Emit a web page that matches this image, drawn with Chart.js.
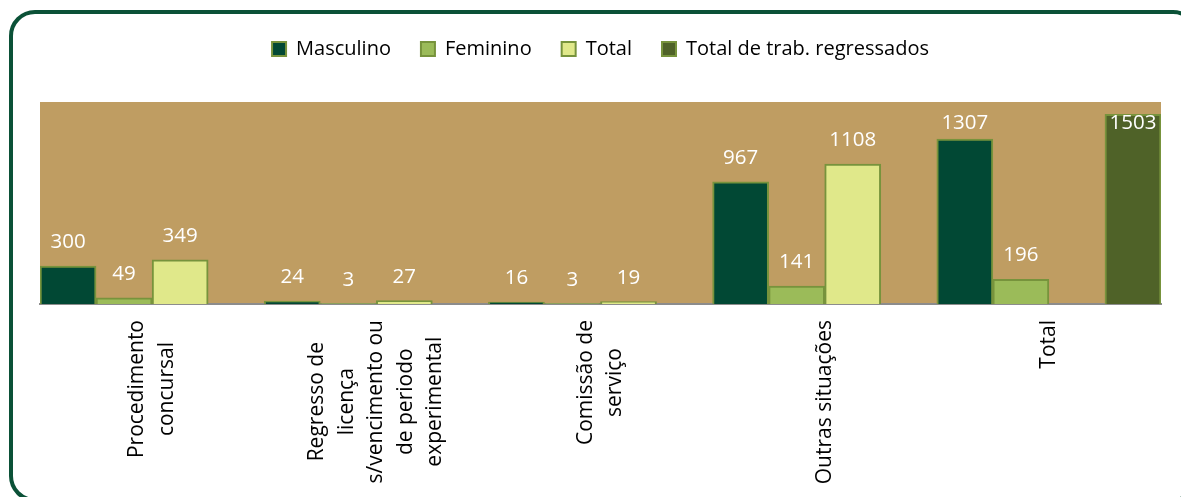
<!DOCTYPE html>
<html>
<head>
<meta charset="utf-8">
<script src="https://cdn.jsdelivr.net/npm/chart.js@4"></script>
<style>
  html, body { margin: 0; padding: 0; background: #fff; overflow: hidden; }
  #wrap { position: relative; width: 1181px; height: 497px; overflow: hidden; }
  #frame {
    position: absolute; left: 9px; top: 10px; width: 1190px; height: 492px;
    border: 4px solid #0b5137; border-radius: 26px; box-sizing: border-box;
  }
  #chart { position: absolute; left: 0; top: 0; }
</style>
</head>
<body>
<div id="wrap">
  <div id="frame"></div>
  <canvas id="chart" width="1181" height="497"></canvas>
</div>
<script>
  const categorias = [
    ["Procedimento", "concursal"],
    ["Regresso de", "licença", "s/vencimento ou", "de periodo", "experimental"],
    ["Comissão de", "serviço"],
    ["Outras situações"],
    ["Total"],
  ];
  const masculino = [300, 24, 16, 967, 1307];
  const feminino = [49, 3, 3, 141, 196];
  const total = [349, 27, 19, 1108, null];
  const totalRegressados = [null, null, null, null, 1503];

  Chart.defaults.font.family = "'Open Sans', sans-serif";

  // fundo da área de plotagem
  const fundo = {
    id: "fundo",
    beforeDraw(chart) {
      const a = chart.chartArea;
      const ctx = chart.ctx;
      ctx.save();
      ctx.fillStyle = "#bf9d62";
      ctx.fillRect(a.left, a.top, a.right - a.left, a.bottom - a.top);
      ctx.restore();
    },
  };

  // espaço extra entre a legenda e o gráfico
  const espacoLegenda = {
    id: "espacoLegenda",
    beforeInit(chart) {
      const fit = chart.legend.fit;
      chart.legend.fit = function () {
        fit.bind(chart.legend)();
        this.height += 33;
      };
    },
  };

  // valores por cima das barras
  const valores = {
    id: "valores",
    afterDatasetsDraw(chart) {
      const ctx = chart.ctx;
      const a = chart.chartArea;
      ctx.save();
      ctx.font = "20.5px 'Open Sans'";
      ctx.fillStyle = "#ffffff";
      ctx.textAlign = "center";
      ctx.textBaseline = "alphabetic";
      chart.data.datasets.forEach((ds, i) => {
        chart.getDatasetMeta(i).data.forEach((bar, j) => {
          const v = ds.data[j];
          if (v === null) return;
          const y = Math.max(bar.y - 18, a.top + 27);
          ctx.fillText(String(v), bar.x, y);
        });
      });
      ctx.restore();
    },
  };

  // rótulos das categorias, na vertical e centrados
  const rotulos = {
    id: "rotulos",
    afterDraw(chart) {
      const ctx = chart.ctx;
      const x = chart.scales.x;
      const topo = chart.chartArea.bottom + 16;
      const passo = 29.5;
      ctx.save();
      ctx.font = "21px 'Open Sans'";
      ctx.fillStyle = "#000000";
      ctx.textAlign = "center";
      ctx.textBaseline = "middle";
      categorias.forEach((linhas, i) => {
        const cx = x.getPixelForValue(i);
        const maxW = Math.max(...linhas.map((l) => ctx.measureText(l).width));
        const cy = topo + maxW / 2;
        linhas.forEach((l, k) => {
          const lx = cx + (k - (linhas.length - 1) / 2) * passo;
          ctx.save();
          ctx.translate(lx, cy);
          ctx.rotate(-Math.PI / 2);
          ctx.fillText(l, 0, 0);
          ctx.restore();
        });
      });
      ctx.restore();
    },
  };

  const ctx = document.getElementById("chart");

  new Chart(ctx, {
    type: "bar",
    data: {
      labels: categorias,
      datasets: [
        {
          label: "Masculino",
          data: masculino,
          backgroundColor: "#014834",
          borderColor: "#77933c",
          borderWidth: 2,
        },
        {
          label: "Feminino",
          data: feminino,
          backgroundColor: "#9bbb59",
          borderColor: "#77933c",
          borderWidth: 2,
        },
        {
          label: "Total",
          data: total,
          backgroundColor: "#e0e88a",
          borderColor: "#77933c",
          borderWidth: 2,
        },
        {
          label: "Total de trab. regressados",
          data: totalRegressados,
          backgroundColor: "#4f6228",
          borderColor: "#77933c",
          borderWidth: 2,
        },
      ],
    },
    options: {
      responsive: false,
      animation: false,
      categoryPercentage: 1,
      barPercentage: 1,
      layout: {
        padding: { left: 40, right: 20, top: 9, bottom: 185 },
      },
      plugins: {
        legend: {
          position: "top",
          labels: {
            color: "#000000",
            font: { size: 20 },
            boxWidth: 14,
            boxHeight: 14,
            padding: 30,
          },
        },
        tooltip: { enabled: false },
      },
      scales: {
        x: {
          grid: { display: false },
          ticks: { display: false },
          border: { display: true, color: "#8c8c8c", width: 2 },
        },
        y: {
          display: false,
          min: 0,
          max: 1600,
        },
      },
    },
    plugins: [fundo, espacoLegenda, valores, rotulos],
  });
</script>
</body>
</html>
